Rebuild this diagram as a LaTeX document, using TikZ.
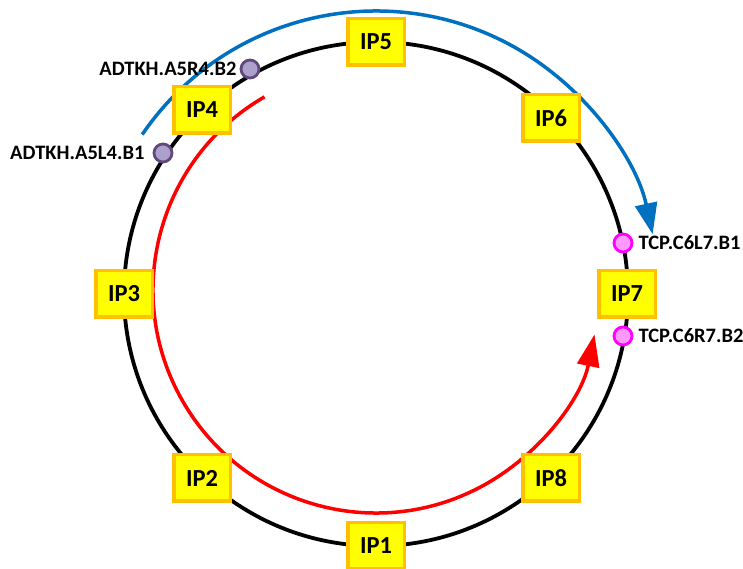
\documentclass[tikz,border=0pt]{standalone}
\usepackage{fontspec}
\setmainfont{Carlito}
\usetikzlibrary{arrows.meta}
\definecolor{boxfill}{HTML}{FFFF00}
\definecolor{boxedge}{HTML}{FFC000}
\definecolor{arcblue}{HTML}{0070C0}
\definecolor{arcred}{HTML}{FF0000}
\definecolor{adfill}{HTML}{ADA0CC}
\definecolor{adedge}{HTML}{604A7B}
\definecolor{tcpfill}{HTML}{FF99FF}
\definecolor{tcpedge}{HTML}{FF00FF}
\begin{document}
\begin{tikzpicture}[x=1pt,y=1pt,
  ipbox/.style={draw=boxedge, fill=boxfill, line width=3.5pt, minimum width=56.5pt, minimum height=46.5pt, inner sep=0pt, font=\fontsize{24.5}{24.5}\selectfont\bfseries},
  admark/.style={circle, draw=adedge, fill=adfill, line width=2.8pt, minimum size=18pt, inner sep=0pt},
  tcpmark/.style={circle, draw=tcpedge, fill=tcpfill, line width=2.8pt, minimum size=18pt, inner sep=0pt},
  marklabel/.style={inner sep=0pt, font=\fontsize{20.5}{20.5}\selectfont\bfseries},
  ring/.style={draw=black, line width=3.8pt},
  bluearrow/.style={draw=arcblue, line width=3.5pt, -{Triangle[length=31pt,width=22pt]}},
  redarrow/.style={draw=arcred, line width=3.5pt, -{Triangle[length=32pt,width=22pt]}}
]
\useasboundingbox (0,0) rectangle (743,569);
\fill[white] (0,0) rectangle (743,569);
% ring
\coordinate (C) at (376,275);
\draw[ring] (C) circle[radius=252];
% beam arcs
\draw[bluearrow] (376,275) ++(145.7:283) arc[start angle=145.7, end angle=12.2, radius=283];
\draw[redarrow] (376,279) ++(120:223) arc[start angle=120, end angle=348.5, radius=223];
% IP boxes
\node[ipbox] (ip5) at (376,527) {IP5};
\node[ipbox] (ip4) at (202,459) {IP4};
\node[ipbox] (ip6) at (551,451) {IP6};
\node[ipbox] (ip3) at (124,275) {IP3};
\node[ipbox] (ip7) at (627,275) {IP7};
\node[ipbox] (ip2) at (202,91) {IP2};
\node[ipbox] (ip8) at (551,91) {IP8};
\node[ipbox] (ip1) at (376,23) {IP1};
% markers
\node[admark] (a5r4) at (250,500) {};
\node[admark] (a5l4) at (163,416) {};
\node[tcpmark] (c6l7) at (623,326) {};
\node[tcpmark] (c6r7) at (623,233) {};
% labels
\node[marklabel, anchor=east] (la5r4) at ([xshift=-3pt]a5r4.west) {ADTKH.A5R4.B2};
\node[marklabel, anchor=east] (la5l4) at ([xshift=-8pt]a5l4.west) {ADTKH.A5L4.B1};
\node[marklabel, anchor=west] (lc6l7) at ([xshift=5pt]c6l7.east) {TCP.C6L7.B1};
\node[marklabel, anchor=west] (lc6r7) at ([xshift=5pt]c6r7.east) {TCP.C6R7.B2};
\end{tikzpicture}
\end{document}
